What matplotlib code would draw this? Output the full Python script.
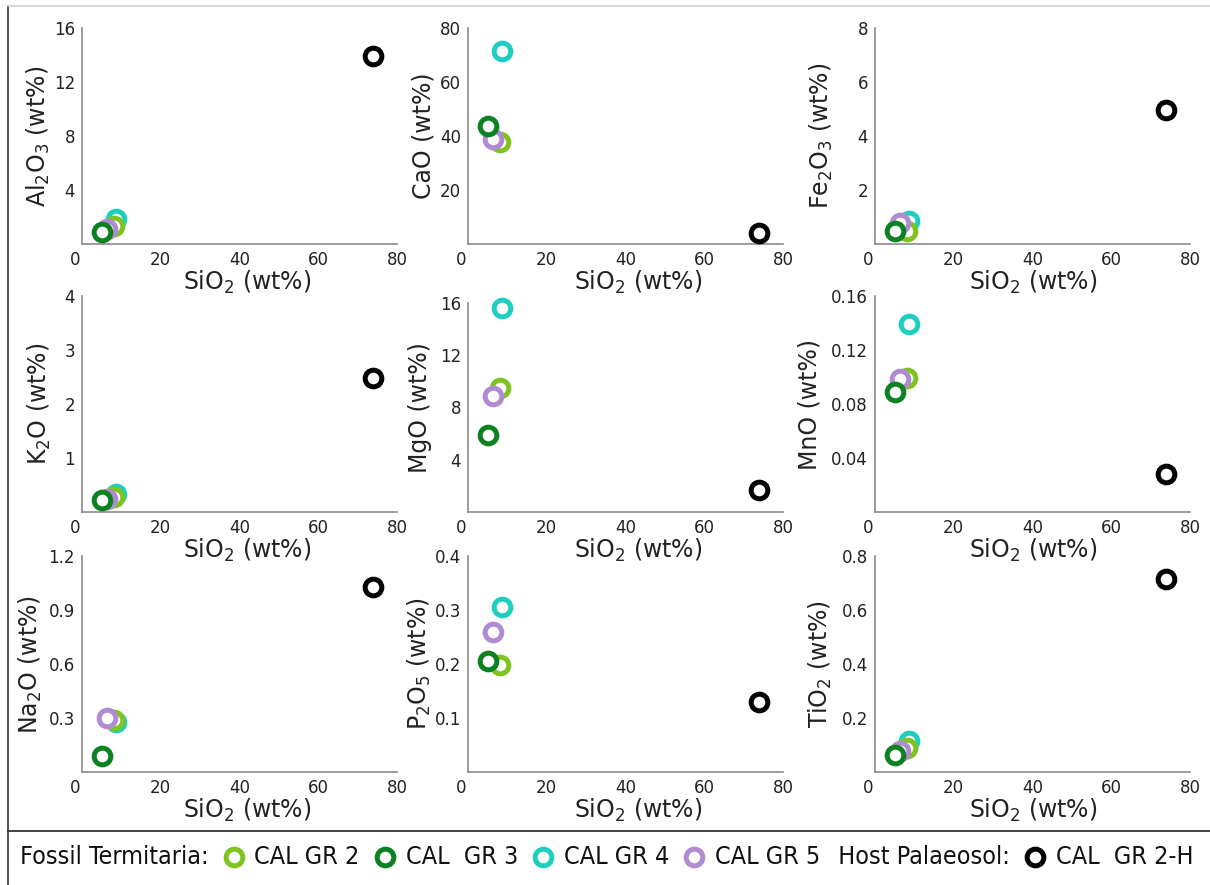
import matplotlib
matplotlib.use("Agg")
import matplotlib.pyplot as plt
from matplotlib.lines import Line2D
from matplotlib.transforms import ScaledTranslation
from matplotlib.offsetbox import HPacker, TextArea, DrawingArea, AnchoredOffsetbox
from matplotlib import font_manager

plt.rcParams['font.family'] = 'DejaVu Sans'
plt.rcParams['mathtext.default'] = 'regular'

# samples (legend order)
groups = ["CAL GR 2", "CAL  GR 3", "CAL GR 4", "CAL GR 5", "CAL  GR 2-H"]
colors = ["#7ec31e", "#0b8121", "#1dcfbe", "#b18bd1", "#000000"]
zorders = [3, 5, 2, 4, 6]

# oxide contents (wt%)
sio2 = [8.2, 5.1, 8.6, 6.3, 73.8]
al2o3 = [1.35, 0.9, 1.85, 1.1, 13.9]
cao = [37.7, 43.6, 71.4, 38.9, 4.0]
fe2o3 = [0.5, 0.48, 0.86, 0.78, 4.95]
k2o = [0.28, 0.22, 0.34, 0.25, 2.48]
mgo = [9.5, 5.9, 15.6, 8.9, 1.7]
mno = [0.099, 0.089, 0.139, 0.0985, 0.028]
na2o = [0.29, 0.09, 0.28, 0.30, 1.03]
p2o5 = [0.198, 0.206, 0.305, 0.259, 0.129]
tio2 = [0.089, 0.064, 0.116, 0.079, 0.714]

panels = [
    (r"Al$_2$O$_3$ (wt%)", al2o3, [4, 8, 12, 16], ["4", "8", "12", "16"]),
    (r"CaO (wt%)", cao, [20, 40, 60, 80], ["20", "40", "60", "80"]),
    (r"Fe$_2$O$_3$ (wt%)", fe2o3, [2, 4, 6, 8], ["2", "4", "6", "8"]),
    (r"K$_2$O (wt%)", k2o, [1, 2, 3, 4], ["1", "2", "3", "4"]),
    (r"MgO (wt%)", mgo, [4, 8, 12, 16], ["4", "8", "12", "16"]),
    (r"MnO (wt%)", mno, [0.04, 0.08, 0.12, 0.16], ["0.04", "0.08", "0.12", "0.16"]),
    (r"Na$_2$O (wt%)", na2o, [0.3, 0.6, 0.9, 1.2], ["0.3", "0.6", "0.9", "1.2"]),
    (r"P$_2$O$_5$ (wt%)", p2o5, [0.1, 0.2, 0.3, 0.4], ["0.1", "0.2", "0.3", "0.4"]),
    (r"TiO$_2$ (wt%)", tio2, [0.2, 0.4, 0.6, 0.8], ["0.2", "0.4", "0.6", "0.8"]),
]
x_ticks = [0, 20, 40, 60, 80]

W, H = 1210, 885
fig = plt.figure(figsize=(W / 100, H / 100), dpi=100)

col_left = [82, 468, 875]
# top and bottom pixel rows of every panel
ax_top = [28, 28, 28, 296, 303, 296, 556, 556, 556]
ax_bot = [244, 244, 244, 512, 512, 512, 772, 772, 772]
ax_w = 315
ylab_off = [44, 45, 54, 43, 48, 66, 52, 49, 55]
xlab_dx = [8, 13, 1]

ms, mew = 12, 3.6
txt_col = "#222222"
spine_col = "#8a8a8a"

for i, (ylabel, vals, yt, ytl) in enumerate(panels):
    r, c = divmod(i, 3)
    ax_h = ax_bot[i] - ax_top[i]
    ax = fig.add_axes([col_left[c] / W, 1 - ax_bot[i] / H, ax_w / W, ax_h / H])
    ax.patch.set_visible(False)
    for k in range(len(groups)):
        ax.plot(sio2[k], vals[k], ls="none", marker="o", ms=ms, mew=mew,
                mec=colors[k], mfc="white", zorder=zorders[k], clip_on=False)
    ax.set_xlim(0, 80)
    ax.set_ylim(0, yt[-1])
    ax.set_xticks(x_ticks)
    ax.set_xticklabels([str(v) for v in x_ticks])
    ax.set_yticks(yt)
    ax.set_yticklabels(ytl)
    for s in ["top", "right"]:
        ax.spines[s].set_visible(False)
    for s in ["left", "bottom"]:
        ax.spines[s].set_color(spine_col)
        ax.spines[s].set_linewidth(1.2)
    ax.tick_params(length=0, labelsize=12, labelcolor=txt_col, pad=5)
    lab0 = ax.xaxis.get_major_ticks()[0].label1
    lab0.set_transform(lab0.get_transform() + ScaledTranslation(-0.07, 0, fig.dpi_scale_trans))
    ax.set_ylabel(ylabel, fontsize=17, color=txt_col, va="center")
    ax.yaxis.set_label_coords(-ylab_off[i] / ax_w, 0.5)
    ax.set_xlabel(r"SiO$_2$ (wt%)", fontsize=17, color=txt_col, va="center")
    ax.xaxis.set_label_coords(0.5 + xlab_dx[c] / ax_w, -38 / ax_h)

# frame lines
fig.add_artist(Line2D([8 / W, 8 / W], [0, 1 - 6 / H], color="#333333", lw=1.2, transform=fig.transFigure))
fig.add_artist(Line2D([8 / W, 1], [1 - 6 / H, 1 - 6 / H], color="#cfcfcf", lw=1.2, transform=fig.transFigure))
fig.add_artist(Line2D([8 / W, 1], [1 - 831 / H, 1 - 831 / H], color="#333333", lw=1.3, transform=fig.transFigure))

# legend row: use a condensed face when one is installed
fp = font_manager.FontProperties(family="DejaVu Sans", stretch="condensed")
cond_path = font_manager.findfont(fp)
if "Condensed" in cond_path:
    tprops = dict(fontproperties=font_manager.FontProperties(fname=cond_path, size=18), color="#111111")
else:
    tprops = dict(fontsize=16, family="DejaVu Sans", color="#111111")


def marker_box(color):
    da = DrawingArea(27, 18, 0, 0)
    da.add_artist(Line2D([15], [9], ls="none", marker="o", ms=12, mew=3.6, mec=color, mfc="white"))
    return da


items = [TextArea("Fossil Termitaria:", textprops=tprops)]
for k in range(4):
    items.append(marker_box(colors[k]))
    items.append(TextArea(groups[k], textprops=tprops))
items.append(TextArea("  Host Palaeosol:", textprops=tprops))
items.append(marker_box(colors[4]))
items.append(TextArea(groups[4], textprops=tprops))

pack = HPacker(children=items, sep=3, pad=0, align="center")
anch = AnchoredOffsetbox(loc="center left", child=pack, pad=0, borderpad=0, frameon=False,
                         bbox_to_anchor=(20 / W, 1 - 857 / H), bbox_transform=fig.transFigure)
fig.add_artist(anch)

fig.savefig("out.png", dpi=100)
